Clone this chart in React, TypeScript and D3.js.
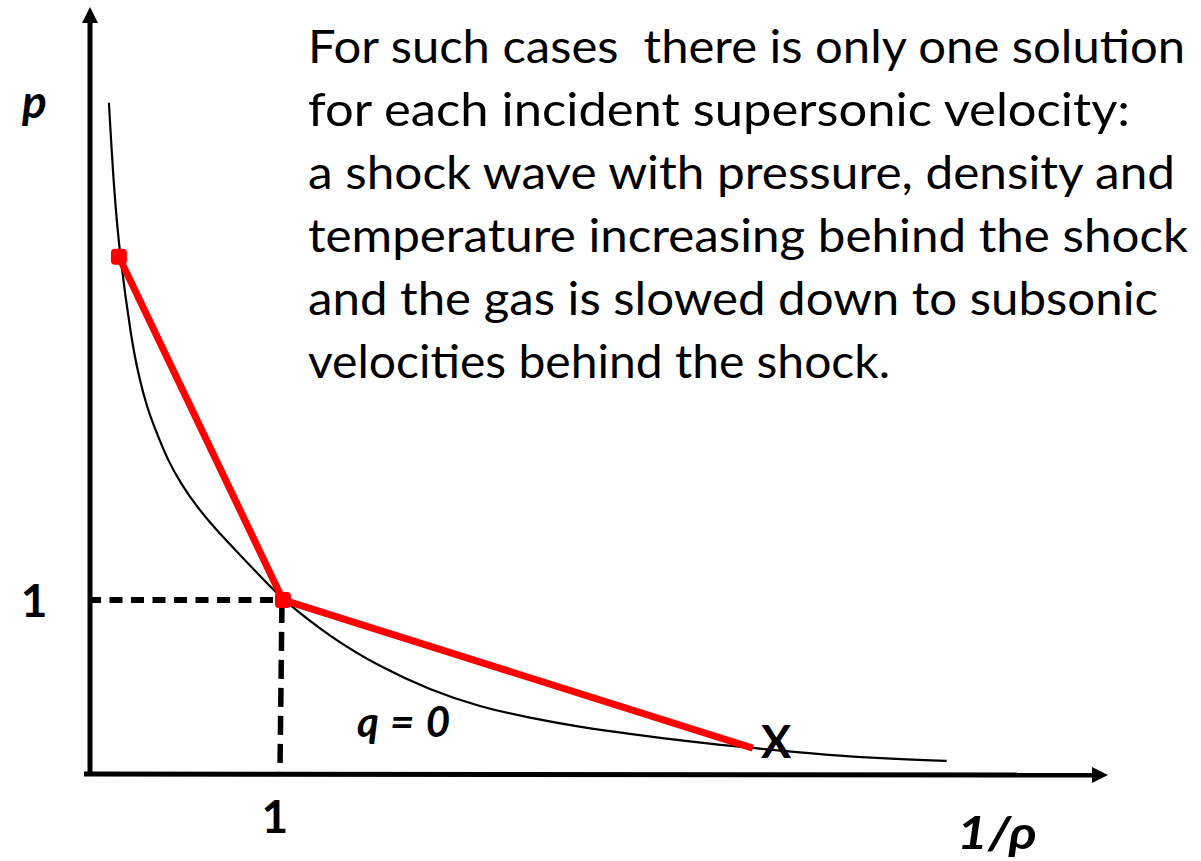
import React from "react";
import * as d3 from "d3";

// Hugoniot curve (specific volume 1/ρ vs pressure p)
const curveV = [0.098, 0.124, 0.155, 0.215, 0.249, 0.294, 0.345, 0.402, 0.469, 0.554, 0.658, 0.777, 0.891, 1.0, 1.244, 1.503, 1.762, 2.021, 2.28, 2.539, 2.782, 3.124, 3.435, 3.819, 4.161, 4.44];
const curveP = [3.856, 3.356, 2.971, 2.494, 2.305, 2.109, 1.96, 1.805, 1.672, 1.534, 1.397, 1.259, 1.126, 1.0, 0.787, 0.615, 0.483, 0.385, 0.322, 0.27, 0.232, 0.184, 0.149, 0.109, 0.086, 0.075];

// Rayleigh lines through the initial state (1, 1)
const shockV = [0.15, 1, 3.435];
const shockP = [2.971, 1, 0.149];

// Reference state drawn with dashed guides
const refV = 1;
const refP = 1;

const xTickLabels = ["1"];
const yTickLabels = ["1"];

const textLines = [
  "For such cases  there is only one solution",
  "for each incident supersonic velocity:",
  "a shock wave with pressure, density and",
  "temperature increasing behind the shock",
  "and the gas is slowed down to subsonic",
  "velocities behind the shock.",
];
const textWidths = [877, 822, 867, 880, 850, 582];

const W = 1201;
const H = 861;

const x = d3.scaleLinear().domain([0, 5.25]).range([90, 1103]);
const y = d3.scaleLinear().domain([0, 4.4]).range([774, 8]);

export default function App() {
  const curve = d3
    .line<number>()
    .x((_, i) => x(curveV[i]))
    .y((_, i) => y(curveP[i]))
    .curve(d3.curveBasis)(curveV) as string;

  const shock = d3
    .line<number>()
    .x((_, i) => x(shockV[i]))
    .y((_, i) => y(shockP[i]))(shockV) as string;

  const x0 = x(0);
  const y0 = y(0);
  const xEnd = x.range()[1];
  const yTop = y.range()[1];

  const font = "Lato, 'Open Sans', sans-serif";

  return (
    <svg
      width={W}
      height={H}
      style={{ position: "absolute", left: 0, top: 0, background: "#fff" }}
      fontFamily={font}
    >
      {/* dashed guides to the reference state */}
      <line x1={x0 - 2} y1={y(refP)} x2={x(refV)} y2={y(refP)} stroke="#000" strokeWidth={6} strokeDasharray="13 8.5" />
      <line x1={x(refV) - 1} y1={y(refP) + 4} x2={x(refV) - 3} y2={y0} stroke="#000" strokeWidth={5.5} strokeDasharray="19 9" />

      {/* axes with arrowheads */}
      <line x1={x0} y1={y0 + 2} x2={x0} y2={yTop + 12} stroke="#000" strokeWidth={5} />
      <path d={`M${x0},${yTop - 1} L${x0 - 8},${yTop + 15} L${x0 + 8},${yTop + 15} Z`} fill="#000" />
      <line x1={x0 - 6} y1={y0} x2={xEnd - 8} y2={y0 + 1} stroke="#000" strokeWidth={5} />
      <path d={`M${xEnd + 5},${y0 + 1} L${xEnd - 11},${y0 - 7} L${xEnd - 11},${y0 + 9} Z`} fill="#000" />

      {/* Hugoniot curve */}
      <path d={curve} fill="none" stroke="#000" strokeWidth={2.2} />

      {/* Rayleigh lines */}
      <path d={shock} fill="none" stroke="#ff0000" strokeWidth={7} strokeLinejoin="round" />
      {shockV.slice(0, 2).map((v, i) => (
        <rect
          key={i}
          x={x(v) - 8}
          y={y(shockP[i]) - 8}
          width={16}
          height={16}
          rx={4}
          fill="#ff0000"
        />
      ))}

      {/* axis labels */}
      <text x={22} y={118} fontSize={46} fontWeight={700} fontStyle="italic">p</text>
      <text x={957} y={849} fontSize={46} fontWeight={700} fontStyle="italic" textLength={80} lengthAdjust="spacingAndGlyphs">1/ρ</text>
      {yTickLabels.map((t) => (
        <text key={t} x={34} y={617} fontSize={46} fontWeight={700} textAnchor="middle">{t}</text>
      ))}
      {xTickLabels.map((t) => (
        <text key={t} x={x(refV) - 8} y={833} fontSize={46} fontWeight={700} textAnchor="middle">{t}</text>
      ))}

      <text x={357} y={737} fontSize={42} fontWeight={700} fontStyle="italic" textLength={93} lengthAdjust="spacing">q = 0</text>
      <text x={776} y={758} fontSize={45} fontWeight={700} textAnchor="middle">X</text>

      {/* description */}
      {textLines.map((line, i) => (
        <text
          key={i}
          x={308}
          y={63 + i * 63}
          fontSize={46}
          textLength={textWidths[i]}
          lengthAdjust="spacingAndGlyphs"
          style={{ whiteSpace: "pre" }}
        >
          {line}
        </text>
      ))}
    </svg>
  );
}
